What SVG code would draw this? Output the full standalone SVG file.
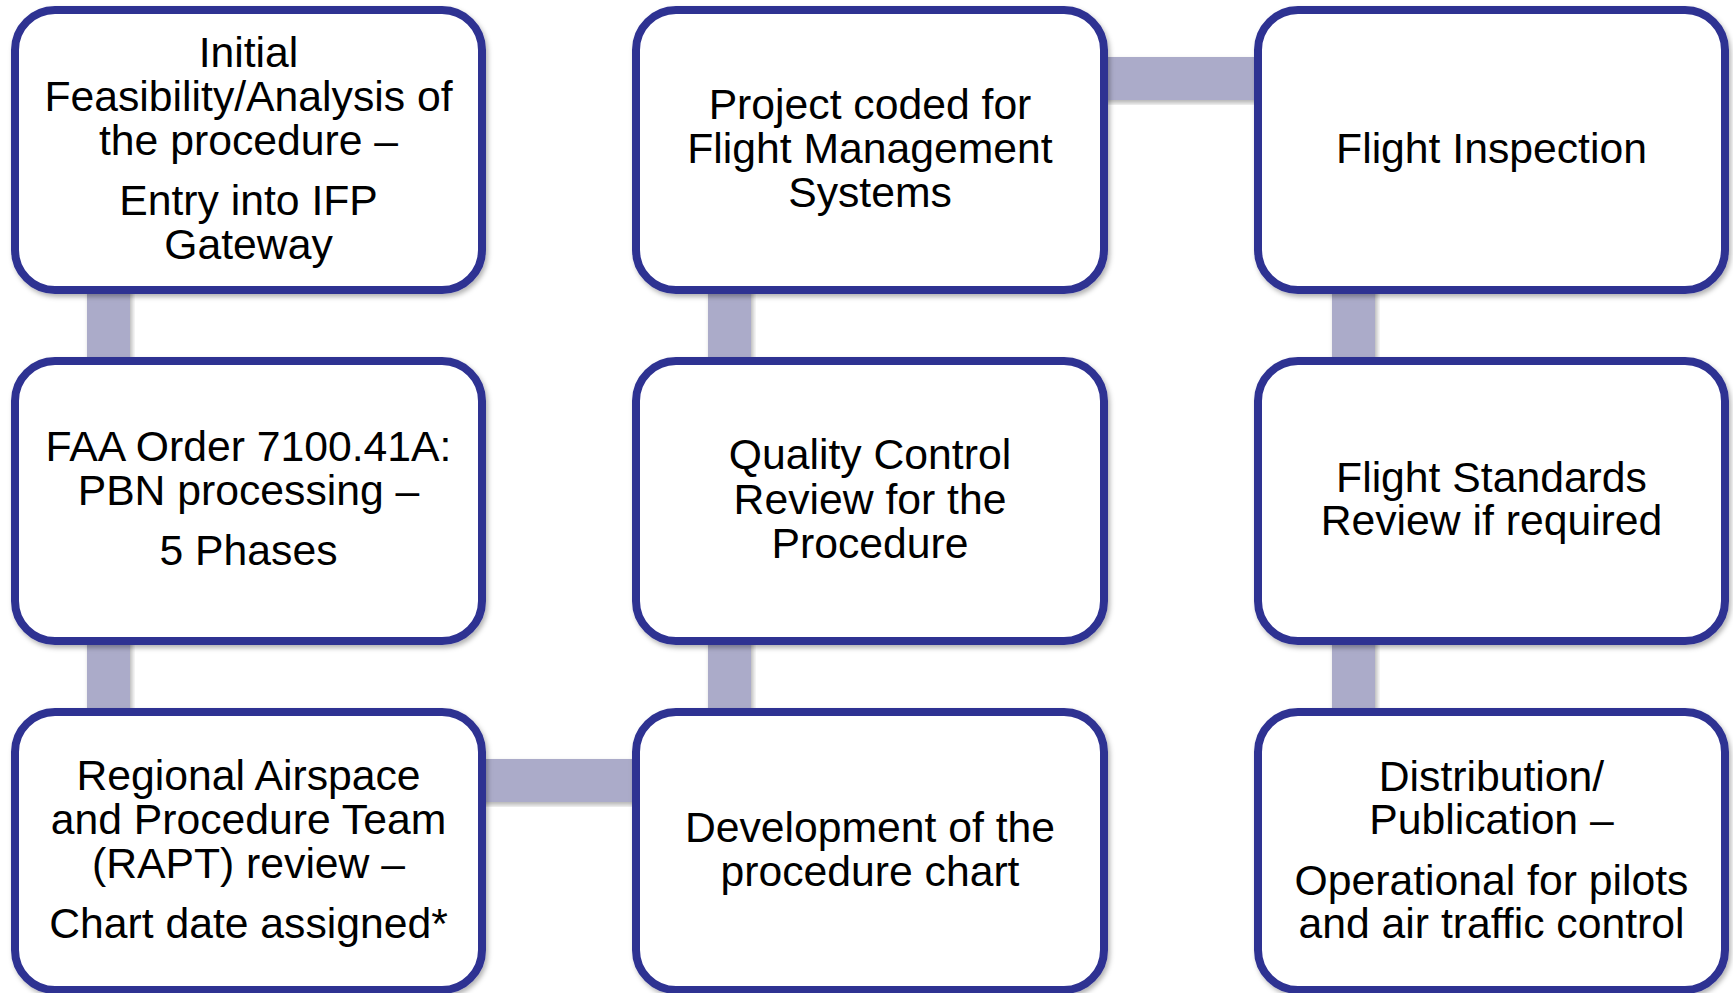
<svg xmlns="http://www.w3.org/2000/svg" width="1733" height="993" viewBox="0 0 1733 993">
<defs>
<filter id="sh" x="-10%" y="-10%" width="120%" height="120%">
<feDropShadow dx="2" dy="3" stdDeviation="2.5" flood-color="#000" flood-opacity="0.3"/>
</filter>
<style>
.box{fill:#ffffff;stroke:#2E3192;stroke-width:8;filter:url(#sh)}
.con{fill:#ABABC9;filter:url(#sh)}
text{font-family:"Liberation Sans",Arial,sans-serif;font-size:42.7px;fill:#000;text-anchor:middle}
</style>
</defs>
<rect width="1733" height="993" fill="#ffffff"/>
<g id="connectors">
<rect class="con" x="87" y="285" width="43" height="80"/>
<rect class="con" x="87" y="636" width="43" height="80"/>
<rect class="con" x="708" y="285" width="43" height="80"/>
<rect class="con" x="708" y="636" width="43" height="80"/>
<rect class="con" x="1332" y="285" width="43" height="80"/>
<rect class="con" x="1332" y="636" width="43" height="80"/>
<rect class="con" x="1100" y="57" width="162" height="43"/>
<rect class="con" x="478" y="759" width="162" height="43"/>
</g>
<g id="n1">
<rect class="box" x="15" y="10" width="467" height="280" rx="40"/>
<text x="248.5" y="67">Initial</text>
<text x="248.5" y="111">Feasibility/Analysis of</text>
<text x="248.5" y="155">the procedure –</text>
<text x="248.5" y="215">Entry into IFP</text>
<text x="248.5" y="259">Gateway</text>
</g>
<g id="n2">
<rect class="box" x="15" y="361" width="467" height="280" rx="40"/>
<text x="248.5" y="461">FAA Order 7100.41A:</text>
<text x="248.5" y="505">PBN processing –</text>
<text x="248.5" y="565">5 Phases</text>
</g>
<g id="n3">
<rect class="box" x="15" y="712" width="467" height="278" rx="40"/>
<text x="248.5" y="790">Regional Airspace</text>
<text x="248.5" y="834">and Procedure Team</text>
<text x="248.5" y="878">(RAPT) review –</text>
<text x="248.5" y="938">Chart date assigned*</text>
</g>
<g id="n4">
<rect class="box" x="636" y="712" width="468" height="278" rx="40"/>
<text x="870" y="842">Development of the</text>
<text x="870" y="886">procedure chart</text>
</g>
<g id="n5">
<rect class="box" x="636" y="361" width="468" height="280" rx="40"/>
<text x="870" y="469">Quality Control</text>
<text x="870" y="513.5">Review for the</text>
<text x="870" y="558">Procedure</text>
</g>
<g id="n6">
<rect class="box" x="636" y="10" width="468" height="280" rx="40"/>
<text x="870" y="118.5">Project coded for</text>
<text x="870" y="163">Flight Management</text>
<text x="870" y="207">Systems</text>
</g>
<g id="n7">
<rect class="box" x="1258" y="10" width="467" height="280" rx="40"/>
<text x="1491.5" y="163">Flight Inspection</text>
</g>
<g id="n8">
<rect class="box" x="1258" y="361" width="467" height="280" rx="40"/>
<text x="1491.5" y="491.5">Flight Standards</text>
<text x="1491.5" y="534.5">Review if required</text>
</g>
<g id="n9">
<rect class="box" x="1258" y="712" width="467" height="278" rx="40"/>
<text x="1491.5" y="791">Distribution/</text>
<text x="1491.5" y="834">Publication –</text>
<text x="1491.5" y="895">Operational for pilots</text>
<text x="1491.5" y="938">and air traffic control</text>
</g>
</svg>
